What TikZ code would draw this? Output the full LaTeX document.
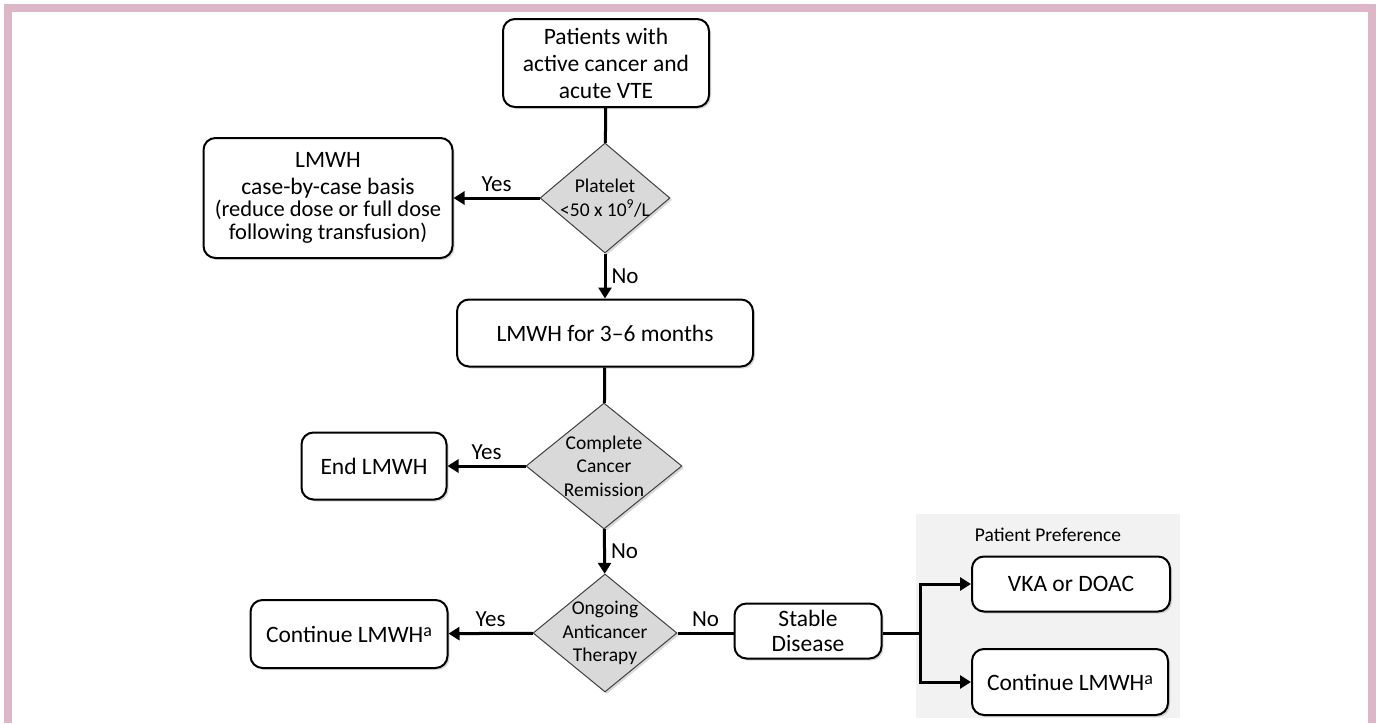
\documentclass[tikz,border=0pt]{standalone}
\usepackage{fontspec}
\setmainfont{Carlito}
\usetikzlibrary{shapes.geometric,arrows.meta,shadows}

\definecolor{framepink}{RGB}{221,182,200}
\definecolor{diagray}{RGB}{217,217,217}
\definecolor{panelgray}{RGB}{242,242,242}

\newcommand{\footmark}{\raisebox{0.45ex}{\fontsize{18}{18}\selectfont a}}

\tikzset{
  box/.style={draw, line width=2pt, rounded corners=12pt, fill=white, align=center,
    inner sep=2pt, font=\fontsize{23.5}{27}\selectfont,
    drop shadow={opacity=0.3, shadow xshift=2pt, shadow yshift=-2pt}},
  decision/.style={diamond, draw=black!75, line width=1pt, fill=diagray, inner sep=0pt,
    drop shadow={opacity=0.3, shadow xshift=2pt, shadow yshift=-2pt}},
  dtext/.style={align=center, font=\fontsize{19.5}{23.5}\selectfont},
  link/.style={line width=3pt},
  arr/.style={link, -{Triangle[length=11pt,width=13pt]}},
  lbl/.style={font=\fontsize{23}{26}\selectfont, inner sep=5pt},
}

\begin{document}
\begin{tikzpicture}[x=1pt,y=-1pt]
    \useasboundingbox (0,0) rectangle (1376,723);
    % frame and preference panel
    \draw[framepink, line width=8pt] (8,723) -- (8,8) -- (1372,8) -- (1372,723);
    \fill[panelgray] (916,514) rectangle (1180,718);
    \node[font=\fontsize{19.5}{22}\selectfont] (pref) at (1048,535) {Patient Preference};

    \node[box, minimum width=206pt, minimum height=88pt] (pat) at (606,63)
      {Patients with\\active cancer and\\acute VTE};
    \node[decision, minimum width=130pt, minimum height=110pt,
      label={[dtext]center:Platelet\\<50 x 10\textsuperscript{9}/L}] (plt) at (605,198) {};
    \node[box, minimum width=249pt, minimum height=120pt] (lmcase) at (328,198)
      {LMWH\\case-by-case basis\\[-5pt]{\fontsize{22.5}{22}\selectfont (reduce dose or full dose}\\[-4pt]{\fontsize{22.5}{22}\selectfont following transfusion)}};
    \node[box, minimum width=296pt, minimum height=67pt] (lmsix) at (605,333) {LMWH for 3--6 months};
    \node[decision, minimum width=156pt, minimum height=126pt,
      label={[dtext]center:Complete\\Cancer\\Remission}] (remis) at (604,466) {};
    \node[box, minimum width=145pt, minimum height=67pt] (endl) at (374,466) {End LMWH};
    \node[decision, minimum width=144pt, minimum height=118pt,
      label={[dtext]center:Ongoing\\Anticancer\\Therapy}] (ongo) at (605,633) {};
    \node[box, minimum width=197pt, minimum height=68pt] (contl) at (349,634) {Continue LMWH\footmark};
    \node[box, minimum width=147pt, minimum height=55pt, font=\fontsize{23.5}{25}\selectfont] (stab) at (808,631) {Stable\\Disease};
    \node[box, minimum width=198pt, minimum height=55pt] (vka) at (1071,584) {VKA or DOAC};
    \node[box, minimum width=196pt, minimum height=66pt] (contr) at (1070,682) {Continue LMWH\footmark};
    \coordinate (split) at (920,633);

    \draw[link] (pat) -- (plt);
    \draw[arr] (plt) -- node[lbl, above] {Yes} (lmcase);
    \draw[arr] (plt) -- node[lbl, right] {No} (lmsix);
    \draw[link] (lmsix) -- (remis);
    \draw[arr] (remis) -- node[lbl, above] {Yes} (endl);
    \draw[arr] (remis) -- node[lbl, right] {No} (ongo);
    \draw[arr] (ongo) -- node[lbl, above] {Yes} (contl);
    \draw[link] (ongo.east) -- node[lbl, above] {No} (stab.west |- ongo.east);
    \draw[link] (stab.east |- split) -- (split);
    \draw[arr] (split) |- (vka);
    \draw[arr] (split) |- (contr);
\end{tikzpicture}
\end{document}
